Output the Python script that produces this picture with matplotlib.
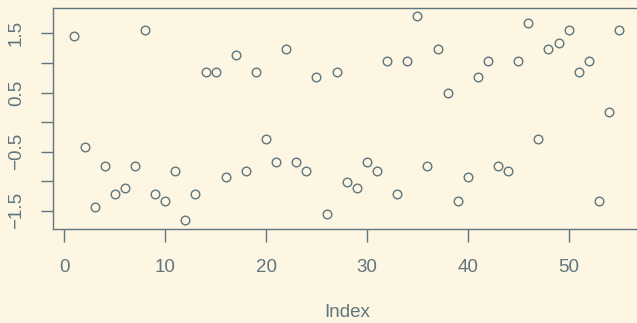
import numpy as np
import matplotlib
matplotlib.use("Agg")
import matplotlib.pyplot as plt

# values plotted against their index
values = [1.46, -0.42, -1.43, -0.74, -1.21, -1.12, -0.74, 1.56, -1.21, -1.33,
          -0.83, -1.66, -1.21, 0.85, 0.85, -0.92, 1.14, -0.83, 0.85, -0.29,
          -0.67, 1.24, -0.67, -0.83, 0.76, -1.55, 0.85, -1.02, -1.12, -0.67,
          -0.83, 1.03, -1.21, 1.03, 1.79, -0.74, 1.24, 0.49, -1.33, -0.92,
          0.76, 1.03, -0.74, -0.83, 1.03, 1.675, -0.29, 1.24, 1.345, 1.56,
          0.85, 1.03, -1.33, 0.17, 1.56]
index = np.arange(1, len(values) + 1)

xticks = [0, 10, 20, 30, 40, 50]
yticks = [-1.5, -1.0, -0.5, 0.0, 0.5, 1.0, 1.5]
ylabels = ["\u22121.5", "", "\u22120.5", "", "0.5", "", "1.5"]

bg = "#fdf6e3"
fg = "#5f767e"

plt.rcParams['font.family'] = ['Liberation Sans', 'DejaVu Sans']

fig = plt.figure(figsize=(6.37, 3.23), dpi=100, facecolor=bg)
W, H = 637.0, 323.0
left, right, top, bottom = 52.7, 640.8, 8.0, 228.5
ax = fig.add_axes([left / W, 1 - bottom / H, (right - left) / W, (bottom - top) / H])
ax.set_facecolor(bg)

ax.plot(index, values, linestyle='none', marker='o', markersize=6.2,
        markerfacecolor='none', markeredgecolor=fg, markeredgewidth=1.0)

# R-style limits: data range padded by 4%
def padded(lo, hi):
    d = (hi - lo) * 0.04
    return lo - d, hi + d

ax.set_xlim(*padded(index.min(), index.max()))
ax.set_ylim(*padded(min(values), max(values)))

ax.set_xticks(xticks)
ax.set_xticklabels([str(t) for t in xticks])
ax.set_yticks(yticks)
ax.set_yticklabels(ylabels, rotation=90, va='center')

for s in ax.spines.values():
    s.set_color(fg)
    s.set_linewidth(1.0)

ax.tick_params(colors=fg, labelcolor=fg, length=9, width=1.0, labelsize=13.5)
ax.tick_params(axis='x', pad=13)
ax.tick_params(axis='y', pad=11)

ax.set_xlabel("Index", color=fg, fontsize=13.5, labelpad=20)

fig.savefig("out.png", dpi=100, facecolor=bg)
